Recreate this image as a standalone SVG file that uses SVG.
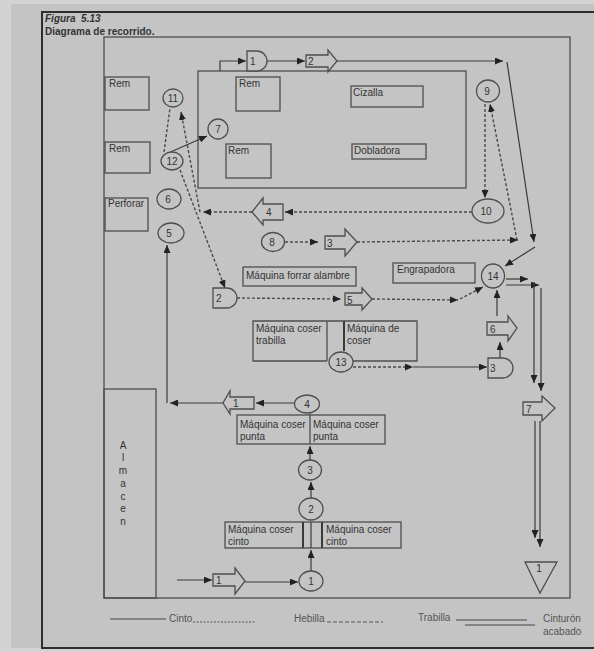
<svg xmlns="http://www.w3.org/2000/svg" width="594" height="652" viewBox="0 0 594 652">
<style>
.bx{fill:none;stroke:#4e4e4e;stroke-width:1.3}
.sh{fill:#c4c4c4;stroke:#4e4e4e;stroke-width:1.3}
.ln{fill:none;stroke:#3a3a3a;stroke-width:1.2}
.dt{fill:none;stroke:#4a4a4a;stroke-width:1.4;stroke-dasharray:3 2}
.t{font-family:"Liberation Sans",Arial,sans-serif;font-size:10px;fill:#333}
.c{text-anchor:middle}
.lg{font-family:"Liberation Sans",Arial,sans-serif;font-size:10px;fill:#555}
</style>
<defs>
<marker id="ah" markerWidth="8" markerHeight="7" refX="8" refY="3.5" orient="auto" markerUnits="userSpaceOnUse"><path d="M0,0 L8,3.5 L0,7 Z" fill="#222"/></marker>
</defs>
<rect x="0" y="0" width="594" height="652" fill="#d3d3d3"/>
<rect x="11" y="4" width="583" height="644" fill="#c4c4c4"/>
<g id="frame">
<path d="M594,12 H42 V648 H594" fill="none" stroke="#2e2e2e" stroke-width="2"/>
<rect x="104" y="37" width="466" height="561" class="bx"/>
<rect x="198" y="71" width="268" height="117" class="bx"/>
</g>
<g id="title">
<text x="45" y="22" class="t" font-weight="bold" font-style="italic" xml:space="preserve">Figura  5.13</text>
<text x="45" y="35" class="t" font-weight="bold" font-size="10.5">Diagrama de recorrido.</text>
</g>
<g id="rem1"><rect x="105" y="77" width="44" height="33" class="bx"/><text x="109" y="87" class="t">Rem</text></g>
<g id="rem2"><rect x="105" y="142" width="45" height="31" class="bx"/><text x="109" y="152" class="t">Rem</text></g>
<g id="perforar"><rect x="105" y="198" width="43" height="33" class="bx"/><text x="108" y="207" class="t">Perforar</text></g>
<g id="rem3"><rect x="236" y="77" width="44" height="34" class="bx"/><text x="239" y="87" class="t">Rem</text></g>
<g id="rem4"><rect x="226" y="144" width="45" height="34" class="bx"/><text x="228" y="154" class="t">Rem</text></g>
<g id="cizalla"><rect x="351" y="86" width="72" height="21" class="bx"/><text x="353" y="96" class="t">Cizalla</text></g>
<g id="dobladora"><rect x="352" y="144" width="74" height="15" class="bx"/><text x="354" y="154" class="t">Dobladora</text></g>
<g id="forrar"><rect x="243" y="267" width="113" height="19" class="bx"/><text x="246" y="279" class="t">Máquina forrar alambre</text></g>
<g id="engrapadora"><rect x="393" y="263" width="82" height="20" class="bx"/><text x="397" y="273" class="t">Engrapadora</text></g>
<g id="trabilla">
<path d="M327,361 H253 V321 H417 V361 H353" class="bx"/>
<line x1="327" y1="321" x2="327" y2="361" class="bx"/>
<line x1="344" y1="321" x2="344" y2="351" stroke="#3a3a3a" stroke-width="2"/>
<text x="256" y="332" class="t">Máquina coser</text><text x="256" y="344" class="t">trabilla</text>
<text x="347" y="332" class="t">Máquina de</text><text x="347" y="344" class="t">coser</text>
</g>
<g id="punta">
<rect x="237" y="415" width="148" height="29" class="bx"/>
<line x1="310" y1="413" x2="310" y2="444" class="bx"/>
<text x="240" y="428" class="t">Máquina coser</text><text x="240" y="440" class="t">punta</text>
<text x="313" y="428" class="t">Máquina coser</text><text x="313" y="440" class="t">punta</text>
</g>
<g id="cinto">
<rect x="225" y="522" width="176" height="26" class="bx"/>
<line x1="303" y1="522" x2="303" y2="548" stroke="#3a3a3a" stroke-width="2"/>
<line x1="322" y1="522" x2="322" y2="548" stroke="#3a3a3a" stroke-width="2"/>
<text x="228" y="533" class="t">Máquina coser</text><text x="228" y="545" class="t">cinto</text>
<text x="326" y="533" class="t">Máquina coser</text><text x="326" y="545" class="t">cinto</text>
</g>
<g id="almacen">
<rect x="104" y="389" width="52" height="209" class="bx"/>
<text x="123" y="449" class="t c">A</text><text x="123" y="461" class="t c">l</text><text x="123" y="474" class="t c">m</text><text x="123" y="487" class="t c">a</text><text x="123" y="500" class="t c">c</text><text x="123" y="512" class="t c">e</text><text x="123" y="525" class="t c">n</text>
</g>
<g id="connectors">
<polyline points="220,71 220,61 246,61" class="ln" marker-end="url(#ah)"/>
<line x1="267" y1="61" x2="305" y2="61" class="ln" marker-end="url(#ah)"/>
<line x1="337" y1="61" x2="503" y2="61" class="ln" marker-end="url(#ah)"/>
<line x1="507" y1="62" x2="534" y2="242" class="ln" marker-end="url(#ah)"/>
<line x1="535" y1="247" x2="505" y2="266" class="ln" marker-end="url(#ah)"/>
<line x1="166" y1="154" x2="207" y2="136" class="ln" marker-end="url(#ah)"/>
<line x1="295" y1="403" x2="256" y2="403" class="ln" marker-end="url(#ah)"/>
<line x1="223" y1="403" x2="170" y2="403" class="ln" marker-end="url(#ah)"/>
<line x1="167" y1="403" x2="167" y2="245" class="ln" marker-end="url(#ah)"/>
<line x1="311" y1="571" x2="311" y2="550" class="ln" marker-end="url(#ah)"/>
<line x1="311" y1="522" x2="311" y2="548" class="ln"/>
<line x1="311" y1="498" x2="311" y2="482" class="ln" marker-end="url(#ah)"/>
<line x1="310" y1="460" x2="310" y2="446" class="ln" marker-end="url(#ah)"/>
<line x1="177" y1="580" x2="212" y2="580" class="ln" marker-end="url(#ah)"/>
<line x1="245" y1="582" x2="298" y2="582" class="ln" marker-end="url(#ah)"/>
<line x1="500" y1="358" x2="500" y2="342" class="ln" marker-end="url(#ah)"/>
<line x1="497" y1="316" x2="497" y2="290" class="ln" marker-end="url(#ah)"/>
<line x1="353" y1="367" x2="413" y2="367" class="dt" marker-end="url(#ah)"/>
<line x1="413" y1="367" x2="487" y2="367" class="ln" marker-end="url(#ah)"/>
<line x1="164" y1="152" x2="170" y2="108" class="dt"/>
<line x1="200" y1="212" x2="181" y2="112" class="dt" marker-end="url(#ah)"/>
<line x1="180" y1="170" x2="225" y2="288" class="dt" marker-end="url(#ah)"/>
<line x1="472" y1="212" x2="285" y2="212" class="dt" marker-end="url(#ah)"/>
<line x1="252" y1="212" x2="203" y2="212" class="dt" marker-end="url(#ah)"/>
<line x1="485" y1="104" x2="485" y2="198" class="dt" marker-end="url(#ah)"/>
<line x1="517" y1="240" x2="490" y2="104" class="dt" marker-end="url(#ah)"/>
<line x1="285" y1="242" x2="318" y2="242" class="dt" marker-end="url(#ah)"/>
<line x1="357" y1="242" x2="518" y2="240" class="dt" marker-end="url(#ah)"/>
<line x1="237" y1="298" x2="341" y2="299" class="dt" marker-end="url(#ah)"/>
<line x1="372" y1="299" x2="458" y2="300" class="dt" marker-end="url(#ah)"/>
<line x1="460" y1="299" x2="483" y2="287" class="dt" marker-end="url(#ah)"/>
<line x1="506" y1="279" x2="528" y2="279" class="ln" marker-end="url(#ah)"/>
<line x1="506" y1="285" x2="539" y2="285" class="ln" marker-end="url(#ah)"/>
<line x1="534" y1="282" x2="534" y2="383" class="ln" marker-end="url(#ah)"/>
<line x1="541" y1="288" x2="541" y2="391" class="ln" marker-end="url(#ah)"/>
<line x1="535" y1="421" x2="535" y2="538" class="ln" marker-end="url(#ah)"/>
<line x1="540" y1="421" x2="540" y2="547" class="ln" marker-end="url(#ah)"/>
</g>
<g id="c11"><ellipse cx="173" cy="98" rx="10" ry="9" class="sh"/><text x="173" y="102" class="t c">11</text></g>
<g id="c12"><ellipse cx="172" cy="161" rx="11" ry="9" class="sh"/><text x="172" y="165" class="t c">12</text></g>
<g id="c7"><ellipse cx="218" cy="129" rx="10" ry="10" class="sh"/><text x="218" y="133" class="t c">7</text></g>
<g id="c6"><ellipse cx="169" cy="199" rx="12" ry="10" class="sh"/><text x="168" y="203" class="t c">6</text></g>
<g id="c5"><ellipse cx="171" cy="233" rx="13" ry="10" class="sh"/><text x="169" y="237" class="t c">5</text></g>
<g id="c8"><ellipse cx="273" cy="242" rx="11.5" ry="9.5" class="sh"/><text x="272" y="246" class="t c">8</text></g>
<g id="c9"><ellipse cx="488" cy="91" rx="11.5" ry="11" class="sh"/><text x="487" y="95" class="t c">9</text></g>
<g id="c10"><ellipse cx="488" cy="211" rx="16" ry="12" class="sh"/><text x="486" y="215" class="t c">10</text></g>
<g id="c14"><ellipse cx="493" cy="276" rx="11.5" ry="12" class="sh"/><text x="493" y="280" class="t c">14</text></g>
<g id="c13"><ellipse cx="341" cy="362" rx="12" ry="10" class="sh"/><text x="341" y="366" class="t c">13</text></g>
<g id="c4"><ellipse cx="307" cy="404" rx="12.5" ry="9" class="sh"/><text x="307" y="408" class="t c">4</text></g>
<g id="c3"><ellipse cx="310" cy="470" rx="11.5" ry="10" class="sh"/><text x="310" y="474" class="t c">3</text></g>
<g id="c2"><ellipse cx="311" cy="509" rx="12" ry="11" class="sh"/><text x="311" y="513" class="t c">2</text></g>
<g id="c1"><ellipse cx="311" cy="581" rx="12" ry="10" class="sh"/><text x="311" y="585" class="t c">1</text></g>
<g id="d1"><path d="M247,51 H257 A10,10 0 0 1 257,71 H247 Z" class="sh"/><text x="250" y="65" class="t">1</text></g>
<g id="d2"><path d="M213,288 H227 A10,10 0 0 1 227,308 H213 Z" class="sh"/><text x="216" y="302" class="t">2</text></g>
<g id="d3"><path d="M488,358 H503 A10,10 0 0 1 503,378 H488 Z" class="sh"/><text x="490" y="372" class="t">3</text></g>
<g id="tr2"><polygon points="306,55 328,55 328,50 337,61 328,72 328,67 306,67" class="sh"/><text x="308" y="65" class="t">2</text></g>
<g id="tr4"><polygon points="283,204 263,204 263,198 252,212 263,225 263,220 283,220" class="sh"/><text x="266" y="216" class="t">4</text></g>
<g id="tr3"><polygon points="325,236 345,236 345,229 357,242 345,256 345,249 325,249" class="sh"/><text x="327" y="247" class="t">3</text></g>
<g id="tr5"><polygon points="345,293 362,293 362,288 372,299 362,310 362,305 345,305" class="sh"/><text x="347" y="304" class="t">5</text></g>
<g id="tr6"><polygon points="487,322 508,322 508,316 517,328 508,341 508,335 487,335" class="sh"/><text x="490" y="333" class="t">6</text></g>
<g id="tr7"><polygon points="523,402 542,402 542,396 555,408 542,421 542,415 523,415" class="sh"/><text x="526" y="413" class="t">7</text></g>
<g id="tr1a"><polygon points="254,397 230,397 230,391 223,403 230,414 230,409 254,409" class="sh"/><text x="233" y="407" class="t">1</text></g>
<g id="tr1b"><polygon points="213,574 235,574 235,568 245,581 235,594 235,586 213,586" class="sh"/><text x="216" y="584" class="t">1</text></g>
<g id="store1"><polygon points="525,562 557,562 540,593" class="sh"/><text x="539" y="572" class="t c" font-size="9">1</text></g>
<g id="legend">
<line x1="110" y1="619" x2="166" y2="619" stroke="#444" stroke-width="1.2"/>
<text x="169" y="622" class="lg">Cinto</text>
<line x1="193" y1="622" x2="256" y2="622" stroke="#555" stroke-width="1" stroke-dasharray="2 1.5"/>
<text x="294" y="622" class="lg">Hebilla</text>
<line x1="327" y1="622" x2="383" y2="622" stroke="#555" stroke-width="1" stroke-dasharray="4 2"/>
<text x="418" y="621" class="lg">Trabilla</text>
<line x1="456" y1="620" x2="527" y2="620" stroke="#444" stroke-width="1.2"/>
<line x1="465" y1="625" x2="535" y2="625" stroke="#444" stroke-width="1.2"/>
<text x="543" y="622" class="lg">Cinturón</text>
<text x="543" y="635" class="lg">acabado</text>
</g>
</svg>
